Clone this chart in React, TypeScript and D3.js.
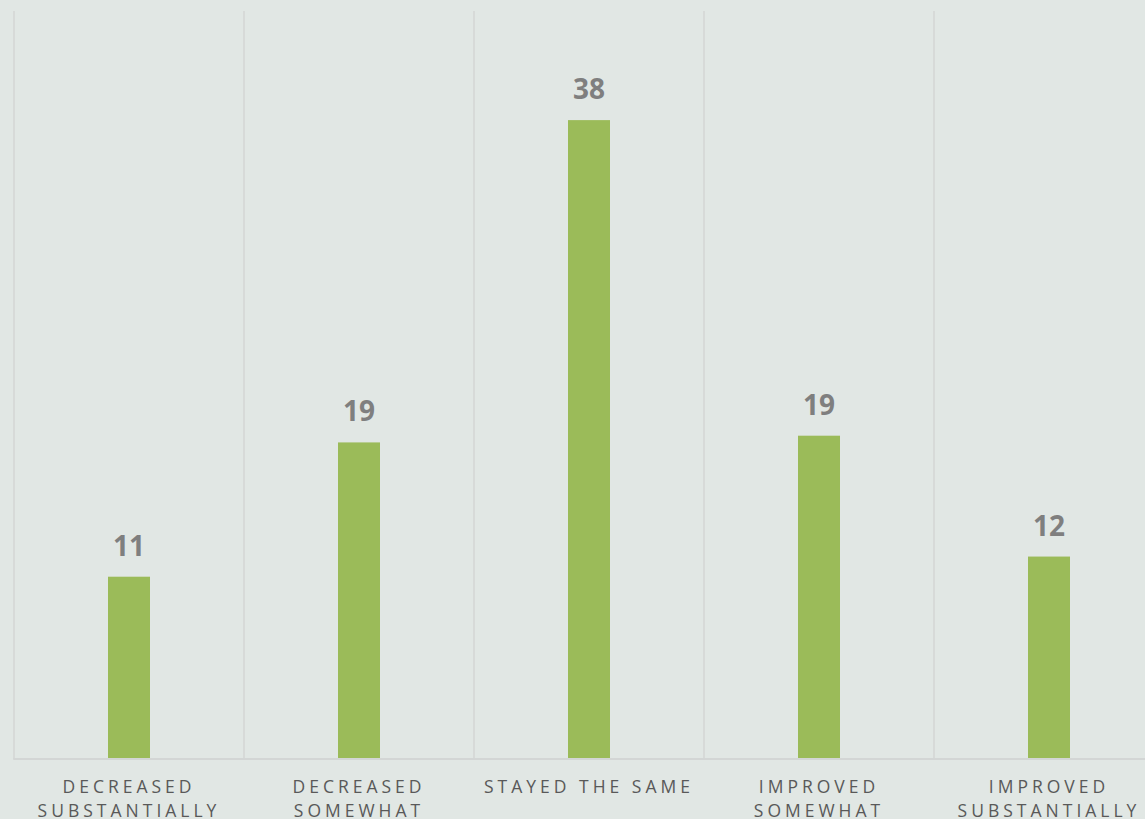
import React from "react";
import * as d3 from "d3";

const categories: string[][] = [
  ["DECREASED", "SUBSTANTIALLY"],
  ["DECREASED", "SOMEWHAT"],
  ["STAYED THE SAME"],
  ["IMPROVED", "SOMEWHAT"],
  ["IMPROVED", "SUBSTANTIALLY"],
];
const values: number[] = [10.8, 18.8, 38, 19.2, 12];

const W = 1145;
const H = 819;
const plotLeft = 14;
const plotRight = 1164;
const plotTop = 11;
const plotBottom = 758;

export default function App() {
  const keys = categories.map((c) => c.join(" "));
  const x = d3.scaleBand<string>().domain(keys).range([plotLeft, plotRight]).paddingInner(0).paddingOuter(0);
  const y = d3.scaleLinear().domain([0, 44.5]).range([plotBottom, plotTop]);
  const barW = 42;
  const fmt = d3.format(".0f");
  const bounds = [...keys.map((k) => x(k) as number), plotRight];

  return (
    <div style={{ position: "absolute", left: 0, top: 0 }}>
      <svg width={W} height={H} style={{ display: "block" }}>
        <rect x={0} y={0} width={W} height={H} fill="#E1E7E4" />
        {bounds.map((b, i) => (
          <line key={"g" + i} x1={b} x2={b} y1={plotTop} y2={plotBottom + 1} stroke="#D3D6D5" strokeWidth={1.5} />
        ))}
        <line x1={plotLeft - 0.75} x2={W} y1={plotBottom + 1} y2={plotBottom + 1} stroke="#D3D6D5" strokeWidth={2} />
        {values.map((v, i) => {
          const cx = (x(keys[i]) as number) + x.bandwidth() / 2;
          return (
            <g key={"b" + i}>
              <rect x={cx - barW / 2} y={y(v)} width={barW} height={plotBottom - y(v)} fill="#9BBB59" />
              <text
                x={cx}
                y={y(v) - 21}
                textAnchor="middle"
                fontFamily="'Open Sans', sans-serif"
                fontWeight={700}
                fontSize={28}
                fill="#7F7F7F"
              >
                {fmt(v)}
              </text>
            </g>
          );
        })}
        {categories.map((lines, i) => {
          const cx = (x(keys[i]) as number) + x.bandwidth() / 2;
          return (
            <text
              key={"l" + i}
              textAnchor="middle"
              fontFamily="'Open Sans', sans-serif"
              fontSize={17.5}
              letterSpacing={4}
              fill="#595959"
            >
              {lines.map((ln, j) => (
                <tspan key={j} x={cx} y={793 + j * 24}>
                  {ln}
                </tspan>
              ))}
            </text>
          );
        })}
      </svg>
    </div>
  );
}
